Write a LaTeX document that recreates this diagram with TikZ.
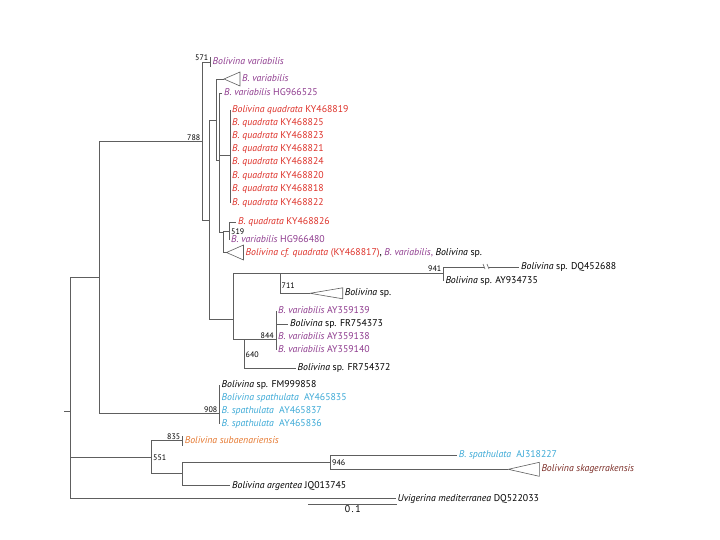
\documentclass[tikz,border=0pt]{standalone}
\usepackage{fontspec}
\setmainfont{PT Sans}
\definecolor{varcol}{HTML}{8E3B8E}
\definecolor{quacol}{HTML}{DD3129}
\definecolor{spacol}{HTML}{3CA9D6}
\definecolor{subcol}{HTML}{E5772E}
\definecolor{skacol}{HTML}{7A2B25}
\definecolor{linecol}{HTML}{5E5E5E}

\begin{document}
\begin{tikzpicture}[x=1pt,y=-1pt,
	branch/.style={draw=linecol, line width=0.6pt},
	tip/.style={anchor=west, inner sep=2pt, text height=7pt, text depth=2pt,
		font=\fontsize{9.8}{10}\selectfont},
	boot/.style={inner sep=0.5pt, font=\fontsize{8}{9}\selectfont}]
	\useasboundingbox (0,0) rectangle (720,540);

	% internal nodes
	\coordinate (stub) at (64,411);
	\coordinate (root) at (70.7,411);
	\coordinate (nA) at (99,277.5);
	\coordinate (n788) at (202.3,141.5);
	\coordinate (n571) at (210.5,62);
	\coordinate (nB) at (209,220);
	\coordinate (nC) at (216.5,120.5);
	\coordinate (nE) at (219,160);
	\coordinate (nQ) at (230,155);
	\coordinate (nF) at (223,232);
	\coordinate (n519) at (229,231);
	\coordinate (nD) at (233.3,319);
	\coordinate (n711) at (280,273.5);
	\coordinate (n941) at (443.3,273.5);
	\coordinate (n640) at (244.3,339.5);
	\coordinate (n844) at (276,339.5);
	\coordinate (n908) at (219.5,413.5);
	\coordinate (n551) at (151.7,457);
	\coordinate (n835) at (182.7,440.5);
	\coordinate (nG) at (182.3,473.5);
	\coordinate (n946) at (330.7,462);

	% collapsed clades
	\coordinate (tv) at (224,79);
	\coordinate (tcf) at (226.5,252.5);
	\coordinate (tsp) at (310,293.3);
	\coordinate (tsk) at (508.3,469.3);
	\draw[branch] (tv) -- ++(16,-7) -- ++(0,14) -- cycle;
	\draw[branch] (tcf) -- ++(17,-7.5) -- ++(0,15) -- cycle;
	\draw[branch] (tsp) -- ++(32.7,-5.5) -- ++(0,11) -- cycle;
	\draw[branch] (tsk) -- ++(31,-7) -- ++(0,14) -- cycle;

	% tips
	\node[tip, varcol] (v571) at (n571) {\textit{Bolivina variabilis}};
	\node[tip, varcol] (vtri) at (240,79) {\textit{B. variabilis}};
	\node[tip, varcol] (v525) at (222,93) {\textit{B. variabilis} HG966525};
	\node[tip, quacol] (q819) at (230,110) {\textit{Bolivina quadrata} KY468819};
	\node[tip, quacol] (q825) at (230,123.3) {\textit{B. quadrata} KY468825};
	\node[tip, quacol] (q823) at (230,136.5) {\textit{B. quadrata} KY468823};
	\node[tip, quacol] (q821) at (230,149.5) {\textit{B. quadrata} KY468821};
	\node[tip, quacol] (q824) at (230,162.5) {\textit{B. quadrata} KY468824};
	\node[tip, quacol] (q820) at (230,176) {\textit{B. quadrata} KY468820};
	\node[tip, quacol] (q818) at (230,189.3) {\textit{B. quadrata} KY468818};
	\node[tip, quacol] (q822) at (230,202.7) {\textit{B. quadrata} KY468822};
	\node[tip, quacol] (q826) at (236,222.5) {\textit{B. quadrata} KY468826};
	\node[tip, varcol] (v480) at (229,240) {\textit{B. variabilis} HG966480};
	\node[tip] (cfq) at (243.5,252.5) {\textcolor{quacol}{\textit{Bolivina cf. quadrata} (KY468817)},
		\textcolor{varcol}{\textit{B. variabilis},} \textit{Bolivina} sp.};
	\node[tip] (dq688) at (519,267) {\textit{Bolivina} sp. DQ452688};
	\node[tip] (ay735) at (443.3,280.5) {\textit{Bolivina} sp. AY934735};
	\node[tip] (sptri) at (342.7,293.3) {\textit{Bolivina} sp.};
	\node[tip, varcol] (v139) at (276,311) {\textit{B. variabilis} AY359139};
	\node[tip] (fr373) at (288,324) {\textit{Bolivina} sp. FR754373};
	\node[tip, varcol] (v138) at (276,337) {\textit{B. variabilis} AY359138};
	\node[tip, varcol] (v140) at (276,350) {\textit{B. variabilis} AY359140};
	\node[tip] (fr372) at (295.5,368) {\textit{Bolivina} sp. FR754372};
	\node[tip] (fm858) at (219.5,385) {\textit{Bolivina} sp. FM999858};
	\node[tip, spacol] (s835) at (219.5,398) {\textit{Bolivina spathulata}\ \ AY465835};
	\node[tip, spacol] (s837) at (219.5,411) {\textit{B. spathulata}\ \ AY465837};
	\node[tip, spacol] (s836) at (219.5,424) {\textit{B. spathulata}\ \ AY465836};
	\node[tip, subcol] (sub) at (n835) {\textit{Bolivina subaenariensis}};
	\node[tip, spacol] (s227) at (456.7,455) {\textit{B. spathulata}\ \ AJ318227};
	\node[tip, skacol] (ska) at (539.3,469.3) {\textit{Bolivina skagerrakensis}};
	\node[tip] (arg) at (230,485.5) {\textit{Bolivina argentea} JQ013745};
	\node[tip] (uvi) at (395.5,498.5) {\textit{Uvigerina mediterranea} DQ522033};

	% branches
	\draw[branch] (stub) -- (root);
	\draw[branch] (root) |- (nA);
	\draw[branch] (root) |- (n551);
	\draw[branch] (root) |- (uvi.west);
	\draw[branch] (nA) |- (n788);
	\draw[branch] (nA) |- (n908);
	\draw[branch] (n788) |- (n571);
	\draw[branch] (n788) |- (nB);
	\draw[branch] ([yshift=-5pt]n571) -- ([yshift=5pt]n571);
	\draw[branch] (nB) |- (nC);
	\draw[branch] (nB) |- (nD);
	\draw[branch] (nC) |- (tv);
	\draw[branch] (nC) |- (nE);
	\draw[branch] (nE) |- (v525.west);
	\draw[branch] (nE) |- (nQ);
	\draw[branch] (nE) |- (nF);
	\foreach \q in {q819,q825,q823,q821,q824,q820,q818,q822}
		\draw[branch] (nQ) |- (\q.west);
	\draw[branch] (nF) |- (n519);
	\draw[branch] (nF) |- (tcf);
	\draw[branch] (n519) |- (q826.west);
	\draw[branch] (n519) |- (v480.west);
	\draw[branch] (nD) |- (n711);
	\draw[branch] (nD) |- (n640);
	\draw[branch] (n711) |- (n941);
	\draw[branch] (n711) |- (tsp);
	\draw[branch] (n941) |- (ay735.west);
	\draw[branch] (n941) |- (484,267) coordinate (brk);
	\draw[branch] (brk) ++(-1,-3) -- ++(2,5) ++(2,-5) -- ++(2,5);
	\draw[branch] (489,267) -- (dq688.west);
	\draw[branch] (n640) |- (n844);
	\draw[branch] (n640) |- (fr372.west);
	\foreach \v in {v139,fr373,v138,v140}
		\draw[branch] (n844) |- (\v.west);
	\foreach \s in {fm858,s835,s837,s836}
		\draw[branch] (n908) |- (\s.west);
	\draw[branch] (n551) |- (n835);
	\draw[branch] (n551) |- (nG);
	\draw[branch] ([yshift=-5pt]n835) -- ([yshift=5pt]n835);
	\draw[branch] (nG) |- (n946);
	\draw[branch] (nG) |- (arg.west);
	\draw[branch] (n946) |- (s227.west);
	\draw[branch] (n946) |- (tsk);

	% support values
	\node[boot, anchor=south east] at (209,61.5) {571};
	\node[boot, anchor=south east] at (201,141) {788};
	\node[boot, anchor=west] at (230.5,231.5) {519};
	\node[boot, anchor=south east] at (442,272.5) {941};
	\node[boot, anchor=west] at (281,286) {711};
	\node[boot, anchor=south east] at (274.5,339) {844};
	\node[boot, anchor=west] at (245,355) {640};
	\node[boot, anchor=south east] at (218,413) {908};
	\node[boot, anchor=south east] at (181,440) {835};
	\node[boot, anchor=west] at (152.5,458) {551};
	\node[boot, anchor=west] at (331.5,462.5) {946};

	% scale bar
	\coordinate (sb1) at (308.3,504);
	\coordinate (sb2) at (397.3,504);
	\draw[branch] (sb1) -- (sb2) node[tip, anchor=north, midway, inner sep=1pt] {0\,.\,1};
\end{tikzpicture}
\end{document}
